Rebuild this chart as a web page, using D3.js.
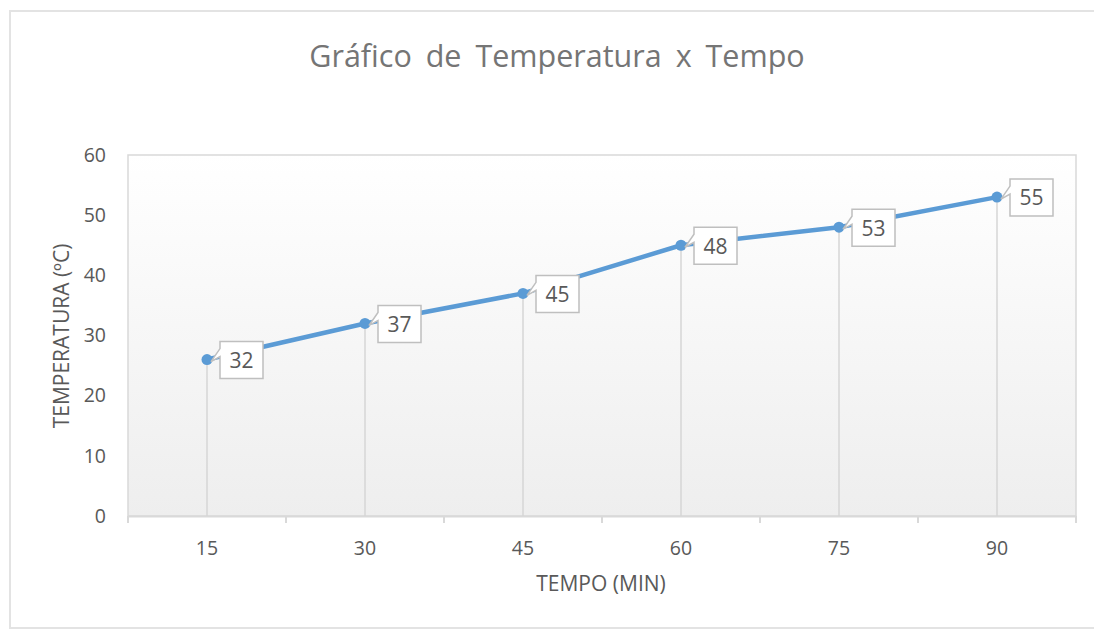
<!DOCTYPE html>
<html>
<head>
<meta charset="utf-8">
<script src="https://cdn.jsdelivr.net/npm/d3@7"></script>
<style>
  body { margin: 0; background: #fff; }
  text { font-family: "Open Sans", "Noto Sans", sans-serif; }
</style>
</head>
<body>
<div id="chart"></div>
<script>
// dados do gráfico
const categorias = ["15", "30", "45", "60", "75", "90"];
const temperaturas = [26, 32, 37, 45, 48, 53];
const rotulos = ["32", "37", "45", "48", "53", "55"];
const yTicks = [0, 10, 20, 30, 40, 50, 60];

const W = 1094, H = 630;
const plot = { left: 128, right: 1076, top: 155, bottom: 516 };
const fonte = "'Open Sans', 'Noto Sans', sans-serif";

const svg = d3.select("#chart").append("svg")
    .attr("width", W).attr("height", H);

// moldura externa
svg.append("rect")
    .attr("x", 10).attr("y", 11).attr("width", W - 8).attr("height", 617)
    .attr("fill", "#fff").attr("stroke", "#e3e3e3").attr("stroke-width", 2);

// gradiente da área de plotagem
const grad = svg.append("defs").append("linearGradient")
    .attr("id", "bg").attr("x1", 0).attr("y1", 0).attr("x2", 0).attr("y2", 1);
grad.append("stop").attr("offset", "0%").attr("stop-color", "#ffffff");
grad.append("stop").attr("offset", "100%").attr("stop-color", "#eeeeee");

const x = d3.scaleBand().domain(categorias).range([plot.left, plot.right]);
const y = d3.scaleLinear().domain([0, 60]).range([plot.bottom, plot.top]);

svg.append("rect")
    .attr("x", plot.left).attr("y", plot.top)
    .attr("width", plot.right - plot.left).attr("height", plot.bottom - plot.top)
    .attr("fill", "url(#bg)").attr("stroke", "#d9d9d9").attr("stroke-width", 1.5);

// título
svg.append("text")
    .attr("x", 557).attr("y", 67).attr("text-anchor", "middle")
    .attr("font-size", 30.5).attr("fill", "#757575")
    .attr("word-spacing", 6)
    .text("Gráfico de Temperatura x Tempo");

// eixo Y (apenas rótulos)
svg.append("g").selectAll("text").data(yTicks).join("text")
    .attr("x", 106).attr("y", d => y(d)).attr("dy", "0.35em")
    .attr("text-anchor", "end").attr("font-size", 19.5).attr("fill", "#595959")
    .text(d => d);

// eixo X
const xAxis = svg.append("g")
    .attr("transform", `translate(0,${plot.bottom})`)
    .call(d3.axisBottom(x).tickSize(0).tickPadding(25));
xAxis.select(".domain").attr("stroke", "#d9d9d9").attr("stroke-width", 2);
xAxis.selectAll("text").attr("font-size", 19.5).attr("fill", "#595959")
    .attr("font-family", fonte);

// marcas entre categorias
const limites = d3.range(categorias.length + 1).map(i => plot.left + i * x.step());
svg.append("g").selectAll("line").data(limites).join("line")
    .attr("x1", d => d).attr("x2", d => d)
    .attr("y1", plot.bottom).attr("y2", plot.bottom + 7)
    .attr("stroke", "#d9d9d9").attr("stroke-width", 2);

// títulos dos eixos
svg.append("text")
    .attr("x", 601).attr("y", 591).attr("text-anchor", "middle")
    .attr("font-size", 21).attr("fill", "#595959")
    .attr("letter-spacing", 0)
    .text("TEMPO (MIN)");
svg.append("text")
    .attr("transform", "translate(69,336) rotate(-90)")
    .attr("text-anchor", "middle").attr("font-size", 21).attr("fill", "#595959")
    .attr("letter-spacing", 0)
    .text("TEMPERATURA (ºC)");

const cx = c => x(c) + x.bandwidth() / 2;

// linhas de projeção
svg.append("g").selectAll("line").data(categorias).join("line")
    .attr("x1", cx).attr("x2", cx)
    .attr("y1", (c, i) => y(temperaturas[i])).attr("y2", plot.bottom)
    .attr("stroke", "#d6d6d6").attr("stroke-width", 1.5);

// série
const linha = d3.line().x(d => cx(d[0])).y(d => y(d[1]));
const pontos = categorias.map((c, i) => [c, temperaturas[i]]);
svg.append("path").datum(pontos)
    .attr("d", linha).attr("fill", "none")
    .attr("stroke", "#5b9bd5").attr("stroke-width", 4.5)
    .attr("stroke-linejoin", "round");
svg.append("g").selectAll("circle").data(pontos).join("circle")
    .attr("cx", d => cx(d[0])).attr("cy", d => y(d[1])).attr("r", 5.5)
    .attr("fill", "#5b9bd5");

// rótulos de dados (balões)
const balao = svg.append("g").selectAll("g").data(pontos).join("g")
    .attr("transform", d => `translate(${cx(d[0])},${y(d[1])})`);
balao.append("path")
    .attr("d", "M13,-18 H56 V19 H13 V-3 L4,2 L13,-11 Z")
    .attr("fill", "#fff").attr("stroke", "#bfbfbf").attr("stroke-width", 1.5);
balao.append("text")
    .attr("x", 34.5).attr("y", 1).attr("dy", "0.35em")
    .attr("text-anchor", "middle").attr("font-size", 21).attr("fill", "#595959")
    .text((d, i) => rotulos[i]);
</script>
</body>
</html>
